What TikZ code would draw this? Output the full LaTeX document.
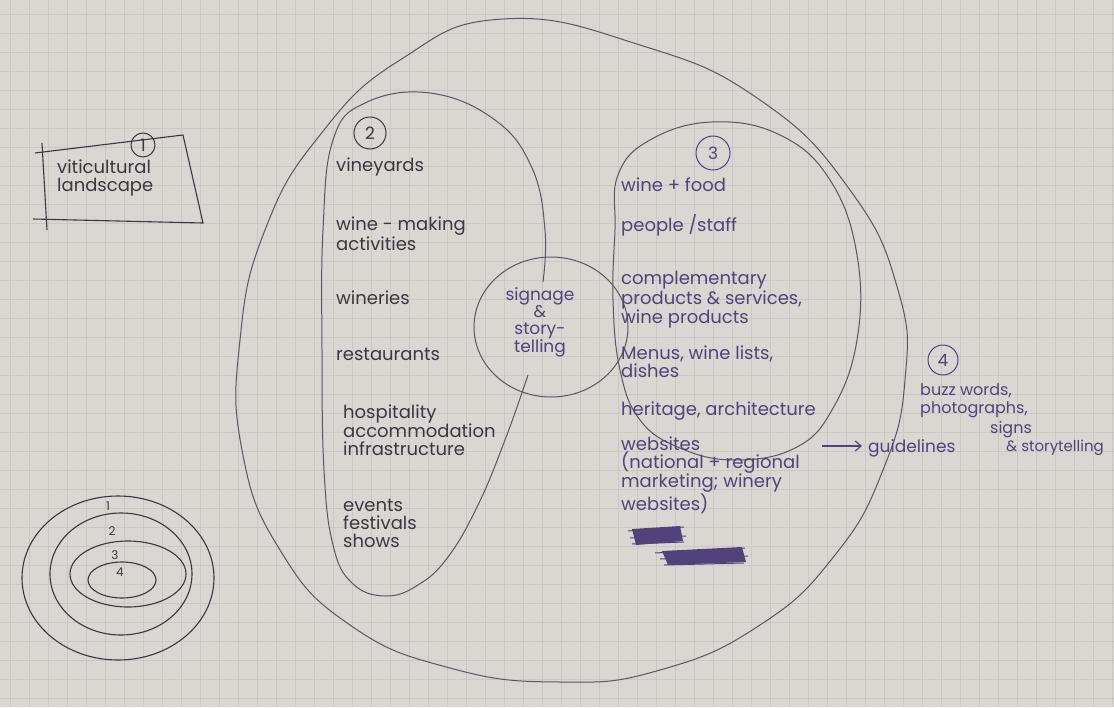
\documentclass[tikz,border=0pt]{standalone}
\usepackage{fontspec}
\setmainfont{Poppins}
\usetikzlibrary{arrows.meta,positioning,shapes.geometric}
\definecolor{paper}{HTML}{DAD6D1}
\definecolor{gridgray}{HTML}{CCC7C3}
\definecolor{pencil}{HTML}{5A5660}
\definecolor{inkdark}{HTML}{3B3740}
\definecolor{inkpurple}{HTML}{52427C}

\begin{document}
\begin{tikzpicture}[
    x=1pt, y=-1pt,
    outline/.style={draw=pencil, line width=1pt},
    darktext/.style={text=inkdark, align=left, anchor=west, inner sep=0pt, font=\fontsize{18}{18}\selectfont},
    purptext/.style={darktext, text=inkpurple},
    smalltext/.style={purptext, font=\fontsize{16}{18}\selectfont},
    numcircle/.style={circle, draw=inkdark, line width=1pt, inner sep=0pt, minimum size=#1, text=inkdark, font=\fontsize{17}{17}\selectfont},
    legendnum/.style={text=inkdark, inner sep=0pt, font=\fontsize{12}{12}\selectfont},
    blob/.style={ellipse, draw=pencil, line width=1pt, inner sep=0pt},
    arrow/.style={-{Straight Barb[length=6pt,width=10pt]}, draw=inkpurple, line width=1.1pt}
  ]
  % paper and grid
  \fill[paper] (0,0) rectangle (1114,707);
  \useasboundingbox (0,0) rectangle (1114,707);
  \foreach \gx in {10,29,...,1114}
    \draw[gridgray, line width=0.7pt] (\gx,0) -- (\gx,707);
  \foreach \gy in {14,33,...,707}
    \draw[gridgray, line width=0.7pt] (0,\gy) -- (1114,\gy);

  % 1 viticultural landscape
  \draw[draw=inkdark, line width=1.1pt] (42,143) -- (47,230);
  \draw[draw=inkdark, line width=1.1pt] (35,153) -- (183,135) -- (203,223) -- (33,219);
  \node[numcircle=24pt] (one) at (143,145) {1};
  \node[darktext] (vitic) at (57,178) {viticultural\\landscape};

  % outer circle
  \draw[outline] plot[smooth cycle, tension=0.8] coordinates {
    (503,19) (640,45) (760,100) (850,190) (898,290) (905,380) (883,470)
    (835,555) (760,625) (660,670) (560,682) (450,668) (350,625) (280,550)
    (242,450) (240,340) (265,230) (320,135) (400,60)};

  % 2
  \draw[outline] plot[smooth, tension=0.7] coordinates {
    (543,282) (545,230) (532,168) (495,120) (430,93) (365,103) (333,140)
    (323,230) (322,350) (324,470) (333,545) (352,583) (385,596) (418,585)
    (448,557) (478,505) (505,440) (528,375)};
  \node[numcircle=32pt] (two) at (370,133) {2};
  \node[darktext] (vine) at (336,167) {vineyards};
  \node[darktext] (making) at (336,234) {wine - making\\activities};
  \node[darktext] (winer) at (336,298) {wineries};
  \node[darktext] (resta) at (336,354) {restaurants};
  \node[darktext] (hosp) at (343,430) {hospitality\\accommodation\\infrastructure};
  \node[darktext] (event) at (343,523) {events\\festivals\\shows};

  % signage
  \node[blob, minimum width=154pt, minimum height=140pt] (sign) at (551,327) {};
  \node[purptext, align=center, anchor=center, font=\fontsize{17}{17}\selectfont] (signtext) at (540,322) {signage\\\&\\story-\\telling};

  % 3
  \draw[outline] plot[smooth cycle, tension=0.7] coordinates {
    (618,175) (650,140) (712,122) (780,135) (830,180) (857,255) (857,340)
    (832,410) (795,448) (735,460) (680,448) (640,420) (620,370) (613,300)
    (615,230)};
  \node[numcircle=34pt, draw=inkpurple, text=inkpurple] (three) at (713,153) {3};
  \node[purptext] (food) at (621,185) {wine + food};
  \node[purptext] (staff) at (621,225) {people /staff};
  \node[purptext] (compl) at (621,300) {complementary\\products \& services,\\wine products};
  \node[purptext] (menus) at (621,362) {Menus, wine lists,\\dishes};
  \node[purptext] (herit) at (621,411) {heritage, architecture};
  \node[purptext] (webs) at (621,475) {websites\\(national + regional\\marketing; winery\\websites)};

  % crossed out
  \fill[inkpurple] (632,529) -- (680,526) -- (683,541) -- (636,545) -- cycle;
  \draw[inkpurple, line width=1pt] (628,531) -- (684,527) (630,538) -- (686,536) (632,544) -- (684,542);
  \fill[inkpurple] (662,551) -- (742,547) -- (746,562) -- (668,565) -- cycle;
  \draw[inkpurple, line width=1pt] (655,553) -- (745,548) (660,559) -- (748,556) (664,565) -- (744,563);

  % 4
  \node[numcircle=30pt, draw=inkpurple, text=inkpurple] (four) at (943,360) {4};
  \node[smalltext] (buzz) at (920,401) {buzz words,\\photographs,};
  \node[smalltext] (signs) at (990,430) {signs};
  \node[smalltext, font=\fontsize{15}{17}\selectfont] (story) at (1006,448) {\& storytelling};
  \node[smalltext, font=\fontsize{17}{18}\selectfont] (guide) at (868,448) {guidelines};
  \coordinate (arrtail) at (822,446);
  \draw[arrow, shorten >=6pt] (arrtail) -- (arrtail -| guide.west);

  % nested rings
  \draw[draw=inkdark, line width=1.1pt] (118,578) ellipse [x radius=96pt, y radius=82pt];
  \draw[draw=inkdark, line width=1.1pt] (121,574) ellipse [x radius=71pt, y radius=61pt];
  \draw[draw=inkdark, line width=1.1pt] (128,574) ellipse [x radius=58pt, y radius=33pt];
  \draw[draw=inkdark, line width=1.1pt] (122,580) ellipse [x radius=34pt, y radius=18pt];
  \node[legendnum] (l1) at (108,506) {1};
  \node[legendnum] (l2) at (112,531) {2};
  \node[legendnum] (l3) at (115,555) {3};
  \node[legendnum] (l4) at (120,572) {4};
\end{tikzpicture}
\end{document}
